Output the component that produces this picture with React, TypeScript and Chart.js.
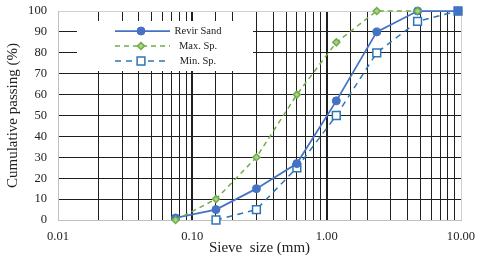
import React, { useEffect, useRef } from 'react';
import { Chart, registerables } from 'chart.js';

Chart.register(...registerables);

const sieveSizes = [0.075, 0.15, 0.3, 0.6, 1.18, 2.36, 4.75, 9.5];
const revirSand = [1, 5, 15, 27, 57, 90, 100, 100];
const maxSpec: (number | null)[] = [0, 10, 30, 60, 85, 100, 100, null];
const minSpec: (number | null)[] = [null, 0, 5, 25, 50, 80, 95, 100];
const seriesLabels = ['Revir Sand', 'Max. Sp.', 'Min. Sp.'];
const xTitle = 'Sieve  size (mm)';
const yTitle = 'Cumulative passing (%)';

const FONT = "'Liberation Serif', 'Times New Roman', serif";

const toPoints = (vals: (number | null)[]) =>
  sieveSizes
    .map((x, i) => ({ x, y: vals[i] }))
    .filter((p) => p.y !== null) as { x: number; y: number }[];

const isDecade = (v: number) => {
  const l = Math.log10(v);
  return Math.abs(l - Math.round(l)) < 1e-6;
};

function drawMarker(
  ctx: CanvasRenderingContext2D,
  style: string,
  x: number,
  y: number,
  r: number,
  fill: string,
  stroke: string,
  lw: number
) {
  ctx.save();
  ctx.beginPath();
  if (style === 'circle') {
    ctx.arc(x, y, r, 0, Math.PI * 2);
  } else if (style === 'rectRot') {
    ctx.moveTo(x, y - r);
    ctx.lineTo(x + r, y);
    ctx.lineTo(x, y + r);
    ctx.lineTo(x - r, y);
    ctx.closePath();
  } else {
    const s = r * Math.SQRT1_2;
    ctx.rect(x - s, y - s, 2 * s, 2 * s);
  }
  ctx.setLineDash([]);
  ctx.fillStyle = fill;
  ctx.fill();
  ctx.lineWidth = lw;
  ctx.strokeStyle = stroke;
  ctx.stroke();
  ctx.restore();
}

const legendBoxPlugin = {
  id: 'legendBoxPlugin',
  beforeDatasetsDraw(chart: any) {
    const { ctx, chartArea } = chart;
    const left = chartArea.left + 19;
    const top = chartArea.top + 10;
    const w = 176;
    const h = 50;
    ctx.save();
    ctx.fillStyle = '#ffffff';
    ctx.fillRect(left, top, w, h);
    chart.data.datasets.forEach((ds: any, i: number) => {
      const y = top + 10 + i * 15;
      ctx.save();
      ctx.beginPath();
      ctx.strokeStyle = ds.borderColor;
      ctx.lineWidth = ds.borderWidth;
      ctx.setLineDash(ds.borderDash || []);
      ctx.moveTo(left + 38, y);
      ctx.lineTo(left + 93, y);
      ctx.stroke();
      ctx.restore();
      const fill = ds.legendFill || ds.pointBorderColor;
      drawMarker(ctx, ds.pointStyle, left + 64, y, ds.pointRadius, fill, ds.pointBorderColor, ds.pointBorderWidth);
      ctx.fillStyle = '#222';
      ctx.font = `10.5px ${FONT}`;
      ctx.textAlign = 'center';
      ctx.textBaseline = 'middle';
      ctx.fillText(ds.label, left + 121, y);
    });
    ctx.restore();
  },
};

export default function App() {
  const canvasRef = useRef<HTMLCanvasElement | null>(null);

  useEffect(() => {
    if (!canvasRef.current) return;
    const minLast = toPoints(minSpec).length - 1;
    const chart = new Chart(canvasRef.current, {
      type: 'line',
      data: {
        datasets: [
          {
            label: seriesLabels[0],
            data: toPoints(revirSand),
            borderColor: '#4472C4',
            borderWidth: 1.75,
            pointStyle: 'circle',
            pointRadius: 4,
            pointBackgroundColor: '#4472C4',
            pointBorderColor: '#4472C4',
            pointBorderWidth: 1,
            order: 1,
            clip: false,
          } as any,
          {
            label: seriesLabels[1],
            data: toPoints(maxSpec),
            borderColor: '#70AD47',
            borderWidth: 1.5,
            borderDash: [5, 4],
            pointStyle: 'rectRot',
            pointRadius: 3.5,
            pointBackgroundColor: '#A9D18E',
            legendFill: '#A9D18E',
            pointBorderColor: '#70AD47',
            pointBorderWidth: 1.5,
            order: 0,
            clip: false,
          } as any,
          {
            label: seriesLabels[2],
            data: toPoints(minSpec),
            borderColor: '#2E75B6',
            borderWidth: 1.5,
            borderDash: [6, 5],
            pointStyle: 'rect',
            pointRadius: 5.5,
            pointBackgroundColor: (c: any) => (c.dataIndex === minLast ? '#2E75B6' : '#ffffff'),
            legendFill: '#ffffff',
            pointBorderColor: '#2E75B6',
            pointBorderWidth: 1.5,
            order: 2,
            clip: false,
          } as any,
        ],
      },
      options: {
        animation: false,
        responsive: true,
        maintainAspectRatio: false,
        layout: { padding: { top: 11, right: 19, left: 0, bottom: 0 } },
        elements: { line: { tension: 0 } },
        plugins: {
          legend: { display: false },
          tooltip: { enabled: false },
        },
        scales: {
          x: {
            type: 'logarithmic',
            min: 0.01,
            max: 10,
            afterFit: (s: any) => {
              s.height = 40;
              s.paddingLeft = 0;
              s.paddingRight = 0;
            },
            border: { display: true, color: '#bfbfbf', width: 1 },
            grid: {
              drawTicks: false,
              color: (c: any) => {
                const v = c.tick?.value;
                if (v === undefined) return '#1f1f1f';
                if (Math.abs(v - 0.01) < 1e-9 || Math.abs(v - 10) < 1e-9) return '#d0d0d0';
                return '#1f1f1f';
              },
              lineWidth: (c: any) => {
                const v = c.tick?.value;
                if (v !== undefined && isDecade(v) && v > 0.011 && v < 9.9) return 2;
                return 1;
              },
            },
            ticks: {
              autoSkip: false,
              maxRotation: 0,
              padding: 9,
              color: '#222',
              font: { family: FONT, size: 12.6 },
              callback: (v: any) => (isDecade(Number(v)) ? Number(v).toFixed(2) : ''),
            },
            title: {
              display: true,
              text: xTitle,
              color: '#222',
              font: { family: FONT, size: 15 },
              padding: { top: 0, bottom: 3 },
            },
          },
          y: {
            min: 0,
            max: 100,
            afterFit: (s: any) => {
              s.width = 58;
              s.paddingTop = 0;
              s.paddingBottom = 0;
            },
            border: { display: true, color: '#bfbfbf', width: 1 },
            grid: {
              drawTicks: false,
              color: (c: any) => (c.tick?.value === 100 ? '#d0d0d0' : '#1f1f1f'),
              lineWidth: 1,
            },
            ticks: {
              stepSize: 10,
              padding: 11,
              color: '#222',
              font: { family: FONT, size: 12.6 },
            },
            title: {
              display: true,
              text: yTitle,
              color: '#222',
              font: { family: FONT, size: 15 },
              padding: { top: 4, bottom: 0 },
            },
          },
        },
      },
      plugins: [legendBoxPlugin],
    });
    return () => chart.destroy();
  }, []);

  return (
    <div style={{ position: 'absolute', left: 0, top: 0, width: 480, height: 260, background: '#fff' }}>
      <canvas ref={canvasRef} />
    </div>
  );
}
